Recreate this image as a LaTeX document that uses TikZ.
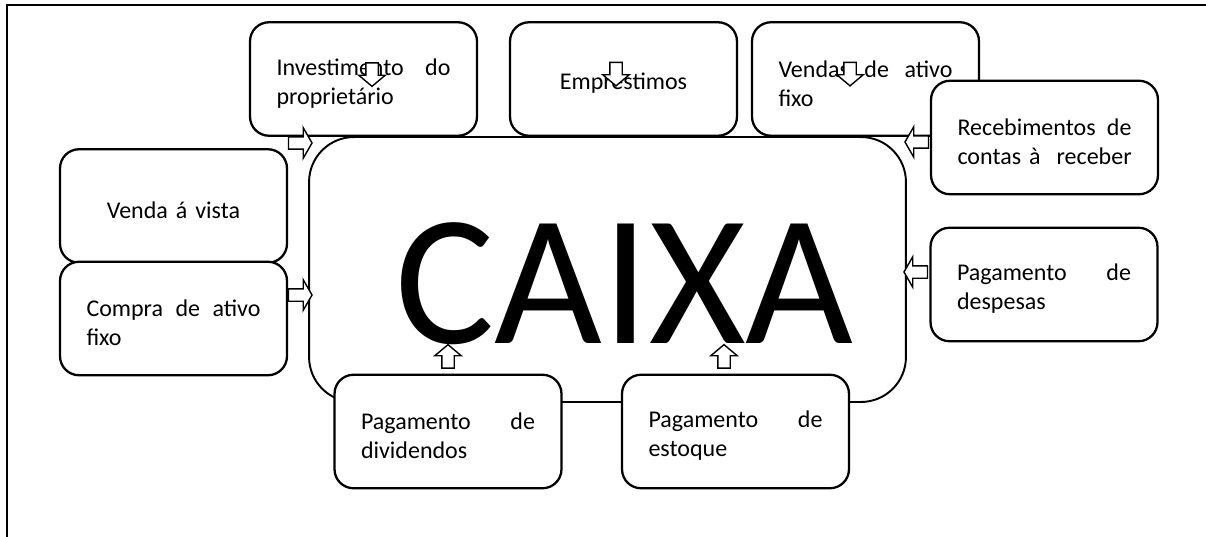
\documentclass[tikz,border=0pt]{standalone}
\usepackage{fontspec}
\setmainfont{Carlito}
\usetikzlibrary{shapes.arrows}
\newcommand{\subir}{\hyphenpenalty=10000 \rule{0pt}{14.5pt}}

\begin{document}
\begin{tikzpicture}[x=0.02cm,y=-0.02cm,
  caixinha/.style={draw,fill=white,line width=1.3pt,rounded corners=0.38cm,
    minimum width=4.54cm,minimum height=2.27cm,text width=3.48cm,inner sep=0pt,
    align=left,font=\fontsize{13.66}{16.5}\selectfont},
  meio/.style={caixinha,align=center},
  seta/.style={single arrow,draw,fill=white,line width=0.8pt,inner xsep=0pt,
    inner ysep=0.11cm,minimum height=0.47cm,single arrow head extend=0.18cm,
    single arrow tip angle=120,single arrow head indent=0pt},
  setav/.style={seta,single arrow head extend=0.14cm,single arrow tip angle=100}]
\useasboundingbox (0,0) rectangle (1206,537);
\draw[line width=1.7pt] (7,537) -- (7,5) -- (1206,5);

%% nodes
\node[draw,line width=1.1pt,rounded corners=0.9cm,minimum width=11.94cm,
  minimum height=5.3cm] (Caixa) at (607.5,269.5) {};
\node[caixinha] (Inv) at (363.5,79) {\subir Investimento\hfill do\\proprietário};
\node[meio] (Emp) at (623.5,79) {\subir Emprestimos};
\node[caixinha] (Ven) at (865.5,79) {\subir Vendas\hfill de\hfill ativo\\fixo};
\node[caixinha] (Rec) at (1044.5,137.5) {\subir Recebimentos\hfill de\\\mbox{contas à\ \ receber}};
\node[caixinha] (Desp) at (1044,284.5) {\subir Pagamento\hfill de\\despesas};
\node[meio] (Vista) at (173.5,206) {\subir Venda á vista};
\node[caixinha] (Compra) at (173.5,318.5) {\subir Compra\hfill de\hfill ativo\\fixo};
\node[caixinha] (Div) at (448,431.5) {\subir Pagamento\hfill de\\dividendos};
\node[caixinha] (Est) at (735.5,431.5) {\subir Pagamento\hfill de\\estoque};
\node[inner sep=0pt,font=\fontsize{106}{106}\selectfont] (CaixaTxt) at (624.5,284) {CAIXA};

%%% arrows
\node[seta] (sInv) at (298.5,143) {};
\node[seta] (sCompra) at (298.5,295) {};
\node[seta,rotate=180] (sRec) at (918.5,142) {};
\node[seta,rotate=180] (sDesp) at (917.5,272) {};
\node[setav,rotate=90] (sDiv) at (448,359) {};
\node[setav,rotate=90] (sEst) at (724,359) {};
\node[setav,rotate=-90] (sInvB) at (372,72) {};
\node[setav,rotate=-90] (sEmp) at (616,71.5) {};
\node[setav,rotate=-90] (sVen) at (850,71.5) {};
\end{tikzpicture}
\end{document}
